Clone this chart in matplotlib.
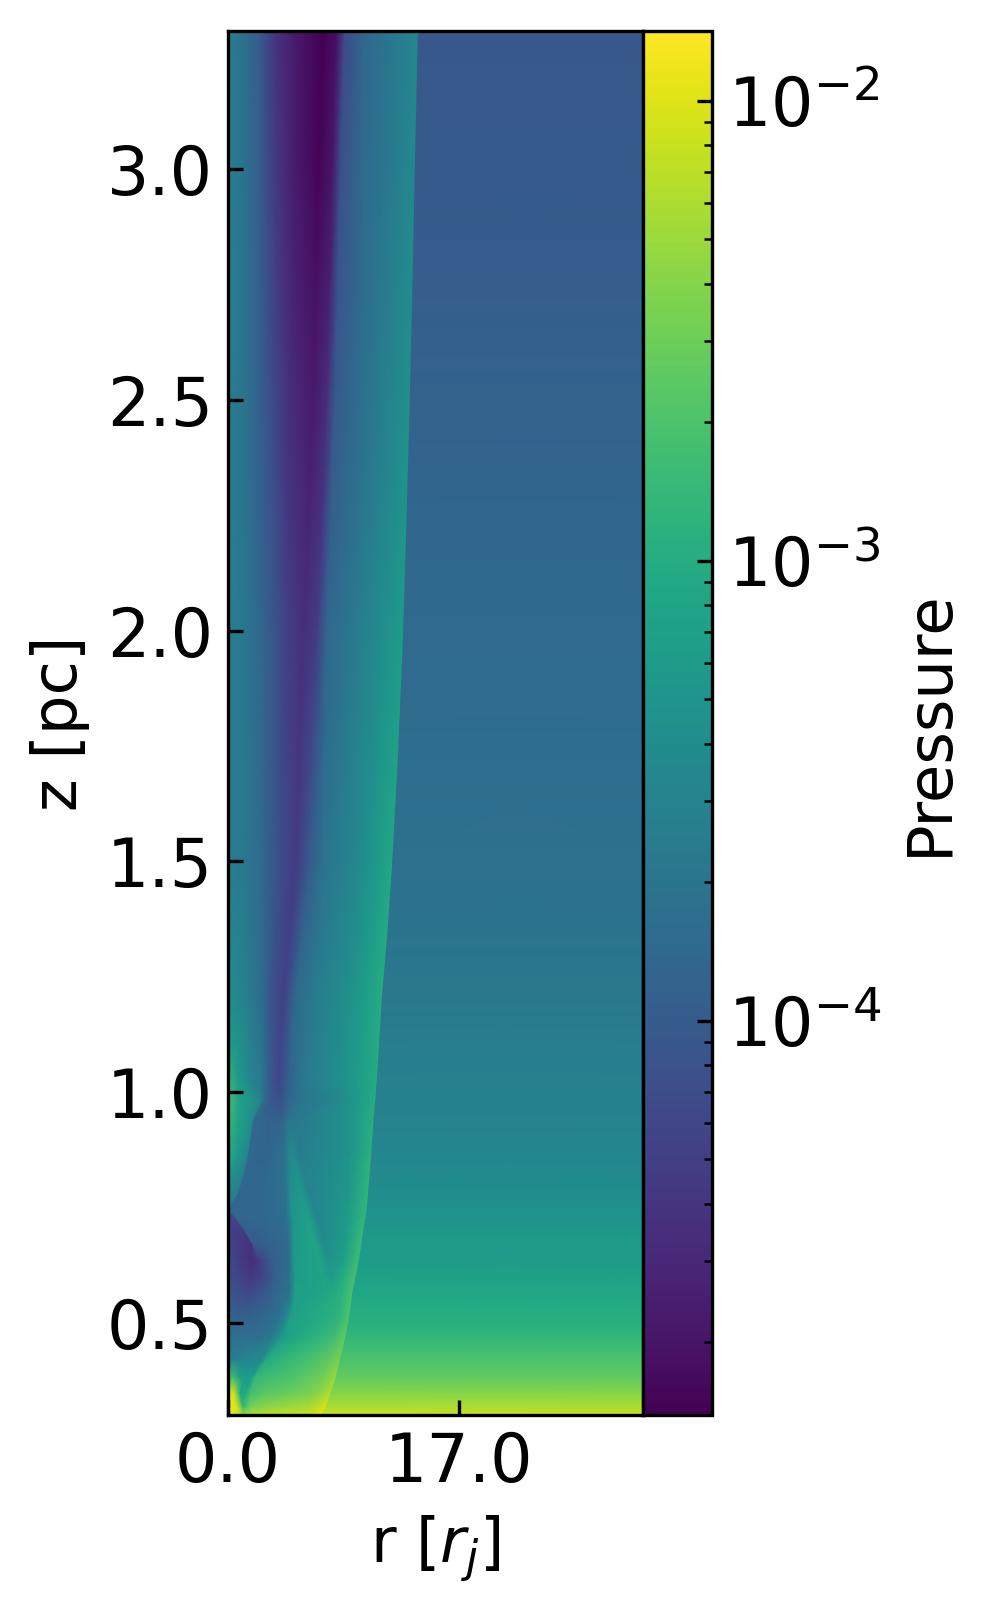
import numpy as np
import matplotlib
matplotlib.use("Agg")
import matplotlib.pyplot as plt
from matplotlib.colors import LogNorm

W, H = 987, 1611
P_MIN, P_MAX = 10**-4.857, 10**-1.848
R_MAX = 30.5
X_TICKS = [0.0, 17.0]
X_TICK_LABELS = ["0.0", "17.0"]
Y_TICKS = [0.5, 1.0, 1.5, 2.0, 2.5, 3.0]

# Heights of the sampled rows [pc]
z_rows = [0.30, 0.318, 0.347, 0.383, 0.42, 0.47, 0.50, 0.528, 0.564, 0.60, 0.636,
          0.672, 0.708, 0.735, 0.749, 0.774, 0.817, 0.867, 0.939, 0.983, 1.03, 1.10,
          1.20, 1.35, 1.50, 1.75, 2.00, 2.25, 2.50, 2.75, 3.00, 3.30]

# Radii of flow features per row [r_j]: axis, core, edge-, edge+, inner, dark band,
# band edge, wave-, wave+, post-wave, shock-, shock+, outer
r_nodes = [
    [0, .40, .80, 1.10, 1.30, 2.00, 3.00, 4.50, 6.00, 6.4, 6.85, 6.91, R_MAX],
    [0, .40, .75, 1.15, 1.30, 1.60, 2.50, 4.50, 6.00, 6.6, 7.20, 7.26, R_MAX],
    [0, .50, .75, .95, 1.30, 1.70, 2.60, 4.50, 6.00, 6.8, 7.55, 7.61, R_MAX],
    [0, .40, .90, 1.30, 1.80, 2.05, 2.80, 4.50, 6.00, 7.0, 7.95, 8.01, R_MAX],
    [0, .50, .90, 1.60, 2.50, 2.85, 3.50, 4.80, 6.50, 7.4, 8.25, 8.31, R_MAX],
    [0, .80, 1.50, 2.50, 3.30, 3.95, 4.30, 5.70, 7.00, 7.8, 8.65, 8.71, R_MAX],
    [0, .80, 1.50, 2.50, 3.60, 4.20, 4.50, 6.00, 7.50, 8.2, 8.85, 8.91, R_MAX],
    [0, .80, 1.50, 2.50, 3.90, 4.50, 4.80, 6.20, 7.80, 8.4, 9.00, 9.06, R_MAX],
    [0, .80, 1.60, 2.40, 3.50, 4.55, 4.95, 6.80, 7.90, 8.5, 9.15, 9.21, R_MAX],
    [0, .90, 1.70, 2.60, 3.60, 4.50, 5.00, 7.05, 7.60, 8.5, 9.40, 9.46, R_MAX],
    [0, 1.0, 1.80, 2.35, 3.30, 4.50, 4.90, 6.80, 7.40, 8.6, 9.64, 9.70, R_MAX],
    [0, 1.0, 1.75, 1.85, 3.00, 4.45, 4.90, 6.45, 7.10, 8.6, 9.83, 9.89, R_MAX],
    [0, .50, 1.00, 1.10, 3.00, 4.40, 4.85, 6.10, 6.80, 8.7, 10.00, 10.06, R_MAX],
    [0, .15, .30, .40, 2.50, 4.30, 4.75, 5.85, 6.50, 8.8, 10.17, 10.23, R_MAX],
    [0, .05, .12, .16, 2.50, 4.30, 4.70, 5.75, 6.40, 8.8, 10.22, 10.28, R_MAX],
    [0, .30, .62, .72, 2.50, 4.25, 4.65, 5.50, 6.10, 8.9, 10.30, 10.36, R_MAX],
    [0, .60, 1.12, 1.25, 2.80, 4.20, 4.55, 5.10, 5.70, 8.9, 10.42, 10.48, R_MAX],
    [0, .70, 1.46, 1.60, 3.00, 4.15, 4.45, 4.70, 5.30, 9.0, 10.55, 10.61, R_MAX],
    [0, .80, 1.82, 1.95, 3.00, 4.00, 4.30, 4.40, 5.20, 9.2, 10.72, 10.78, R_MAX],
    [0, .80, 2.50, 2.65, 3.20, 3.90, 4.40, 5.20, 7.50, 9.4, 10.85, 10.91, R_MAX],
    [0, .80, 1.60, 2.40, 3.00, 3.80, 4.50, 5.50, 8.00, 9.6, 10.97, 11.03, R_MAX],
    [0, .90, 1.80, 2.50, 3.10, 3.90, 4.70, 6.00, 8.40, 9.8, 11.12, 11.18, R_MAX],
    [0, .90, 2.00, 2.60, 3.20, 4.10, 5.00, 6.50, 8.90, 10.2, 11.32, 11.38, R_MAX],
    [0, .95, 2.10, 2.80, 3.50, 4.60, 5.50, 6.80, 9.10, 10.5, 11.75, 11.81, R_MAX],
    [0, 1.0, 2.20, 3.00, 3.80, 5.00, 6.00, 7.00, 9.30, 10.8, 12.10, 12.16, R_MAX],
    [0, 1.0, 2.25, 3.10, 4.00, 5.30, 6.30, 7.15, 9.45, 11.0, 12.55, 12.61, R_MAX],
    [0, 1.0, 2.30, 3.20, 4.20, 5.60, 6.60, 7.30, 9.60, 11.3, 12.90, 12.96, R_MAX],
    [0, 1.0, 2.30, 3.30, 4.40, 5.95, 6.95, 7.60, 9.70, 11.5, 13.15, 13.21, R_MAX],
    [0, 1.0, 2.30, 3.40, 4.60, 6.30, 7.30, 7.90, 9.80, 11.6, 13.38, 13.44, R_MAX],
    [0, 1.0, 2.30, 3.45, 4.75, 6.50, 7.50, 8.10, 9.85, 11.8, 13.58, 13.64, R_MAX],
    [0, 1.0, 2.30, 3.50, 4.90, 6.70, 7.70, 8.30, 9.90, 11.9, 13.75, 13.81, R_MAX],
    [0, 1.0, 2.30, 3.50, 5.00, 7.00, 8.00, 8.60, 10.0, 12.0, 13.98, 14.04, R_MAX],
]

# Pressure read as position along the colour bar (0 = bottom, 1 = top)
cbar_pos = [
    [.97, .96, .92, .87, .87, .89, .90, .91, .92, .93, .97, .92, .92],
    [.98, .97, .92, .66, .70, .78, .82, .85, .87, .90, .94, .875, .875],
    [.93, .93, .75, .60, .60, .70, .74, .77, .80, .83, .89, .82, .82],
    [.72, .68, .58, .55, .55, .66, .69, .71, .75, .78, .84, .755, .755],
    [.42, .43, .45, .46, .48, .61, .64, .68, .72, .75, .80, .715, .715],
    [.37, .36, .36, .37, .42, .52, .56, .62, .66, .69, .75, .66, .66],
    [.35, .33, .33, .34, .38, .48, .57, .60, .64, .67, .73, .63, .63],
    [.31, .28, .28, .31, .36, .46, .56, .59, .63, .66, .72, .61, .61],
    [.28, .24, .22, .26, .33, .37, .56, .58, .61, .65, .71, .59, .59],
    [.26, .20, .16, .21, .31, .36, .55, .58, .54, .62, .70, .57, .57],
    [.24, .17, .13, .18, .30, .34, .55, .58, .50, .57, .69, .55, .55],
    [.20, .17, .14, .28, .31, .34, .54, .58, .48, .55, .68, .54, .54],
    [.18, .18, .18, .31, .33, .35, .53, .57, .47, .54, .67, .525, .525],
    [.24, .22, .21, .33, .33, .36, .52, .56, .46, .54, .66, .505, .505],
    [.42, .40, .38, .33, .33, .36, .52, .55, .46, .54, .66, .50, .50],
    [.45, .44, .43, .33, .33, .37, .50, .54, .45, .53, .655, .49, .49],
    [.52, .48, .44, .33, .33, .38, .48, .52, .44, .52, .65, .48, .48],
    [.62, .54, .46, .33, .32, .37, .44, .48, .42, .51, .64, .46, .46],
    [.68, .58, .48, .34, .31, .32, .36, .39, .40, .52, .63, .44, .44],
    [.72, .58, .44, .36, .27, .24, .31, .38, .44, .53, .62, .435, .435],
    [.66, .54, .46, .42, .30, .20, .31, .40, .49, .55, .62, .43, .43],
    [.56, .50, .43, .38, .28, .20, .33, .41, .49, .55, .62, .42, .42],
    [.50, .46, .39, .34, .26, .19, .34, .42, .50, .56, .62, .40, .40],
    [.45, .43, .37, .32, .25, .18, .31, .40, .48, .545, .61, .385, .385],
    [.42, .41, .36, .30, .24, .17, .28, .38, .46, .53, .60, .37, .37],
    [.42, .41, .35, .29, .22, .15, .23, .35, .44, .51, .575, .355, .355],
    [.42, .41, .34, .28, .20, .13, .18, .33, .42, .485, .55, .34, .34],
    [.42, .40, .32, .25, .16, .10, .15, .30, .39, .46, .525, .325, .325],
    [.42, .40, .31, .22, .13, .07, .13, .28, .36, .43, .50, .31, .31],
    [.43, .395, .305, .19, .10, .04, .09, .26, .35, .42, .485, .295, .295],
    [.44, .39, .30, .17, .08, .01, .06, .24, .34, .405, .47, .28, .28],
    [.42, .38, .29, .15, .07, .00, .04, .22, .33, .395, .46, .27, .27],
]

Z = np.tile(np.array(z_rows)[:, None], (1, len(r_nodes[0])))
R = np.array(r_nodes, dtype=float)
pressure = P_MIN * (P_MAX / P_MIN) ** np.array(cbar_pos)

fig = plt.figure(figsize=(W / 300, H / 300), dpi=300)
L, RT, T, B = 227.5, 642.5, 31.0, 1415.0
ax = fig.add_axes([L / W, 1 - B / H, (RT - L) / W, (B - T) / H])
norm = LogNorm(vmin=P_MIN, vmax=P_MAX)
mesh = ax.pcolormesh(R, Z, pressure, shading="gouraud", cmap="viridis", norm=norm, rasterized=True)
ax.set_xlim(0, R_MAX)
ax.set_ylim(0.30, 3.30)
ax.set_xticks(X_TICKS, X_TICK_LABELS)
ax.set_yticks(Y_TICKS)
ax.tick_params(direction="in", labelsize=16)
ax.set_xlabel(r"r [$r_j$]", fontsize=15)
ax.set_ylabel("z [pc]", fontsize=15)
ax.xaxis.set_label_coords(0.5, -0.0715)
ax.yaxis.set_label_coords(-0.332, 0.5)

cax = fig.add_axes([RT / W, 1 - B / H, 69 / W, (B - T) / H])
cb = fig.colorbar(mesh, cax=cax)
cb.ax.tick_params(which="both", direction="in", labelsize=16, pad=4)
cb.set_label("Pressure", fontsize=15)
cb.ax.yaxis.set_label_coords(3.73, 0.5)

fig.savefig("out.png", dpi=300)
